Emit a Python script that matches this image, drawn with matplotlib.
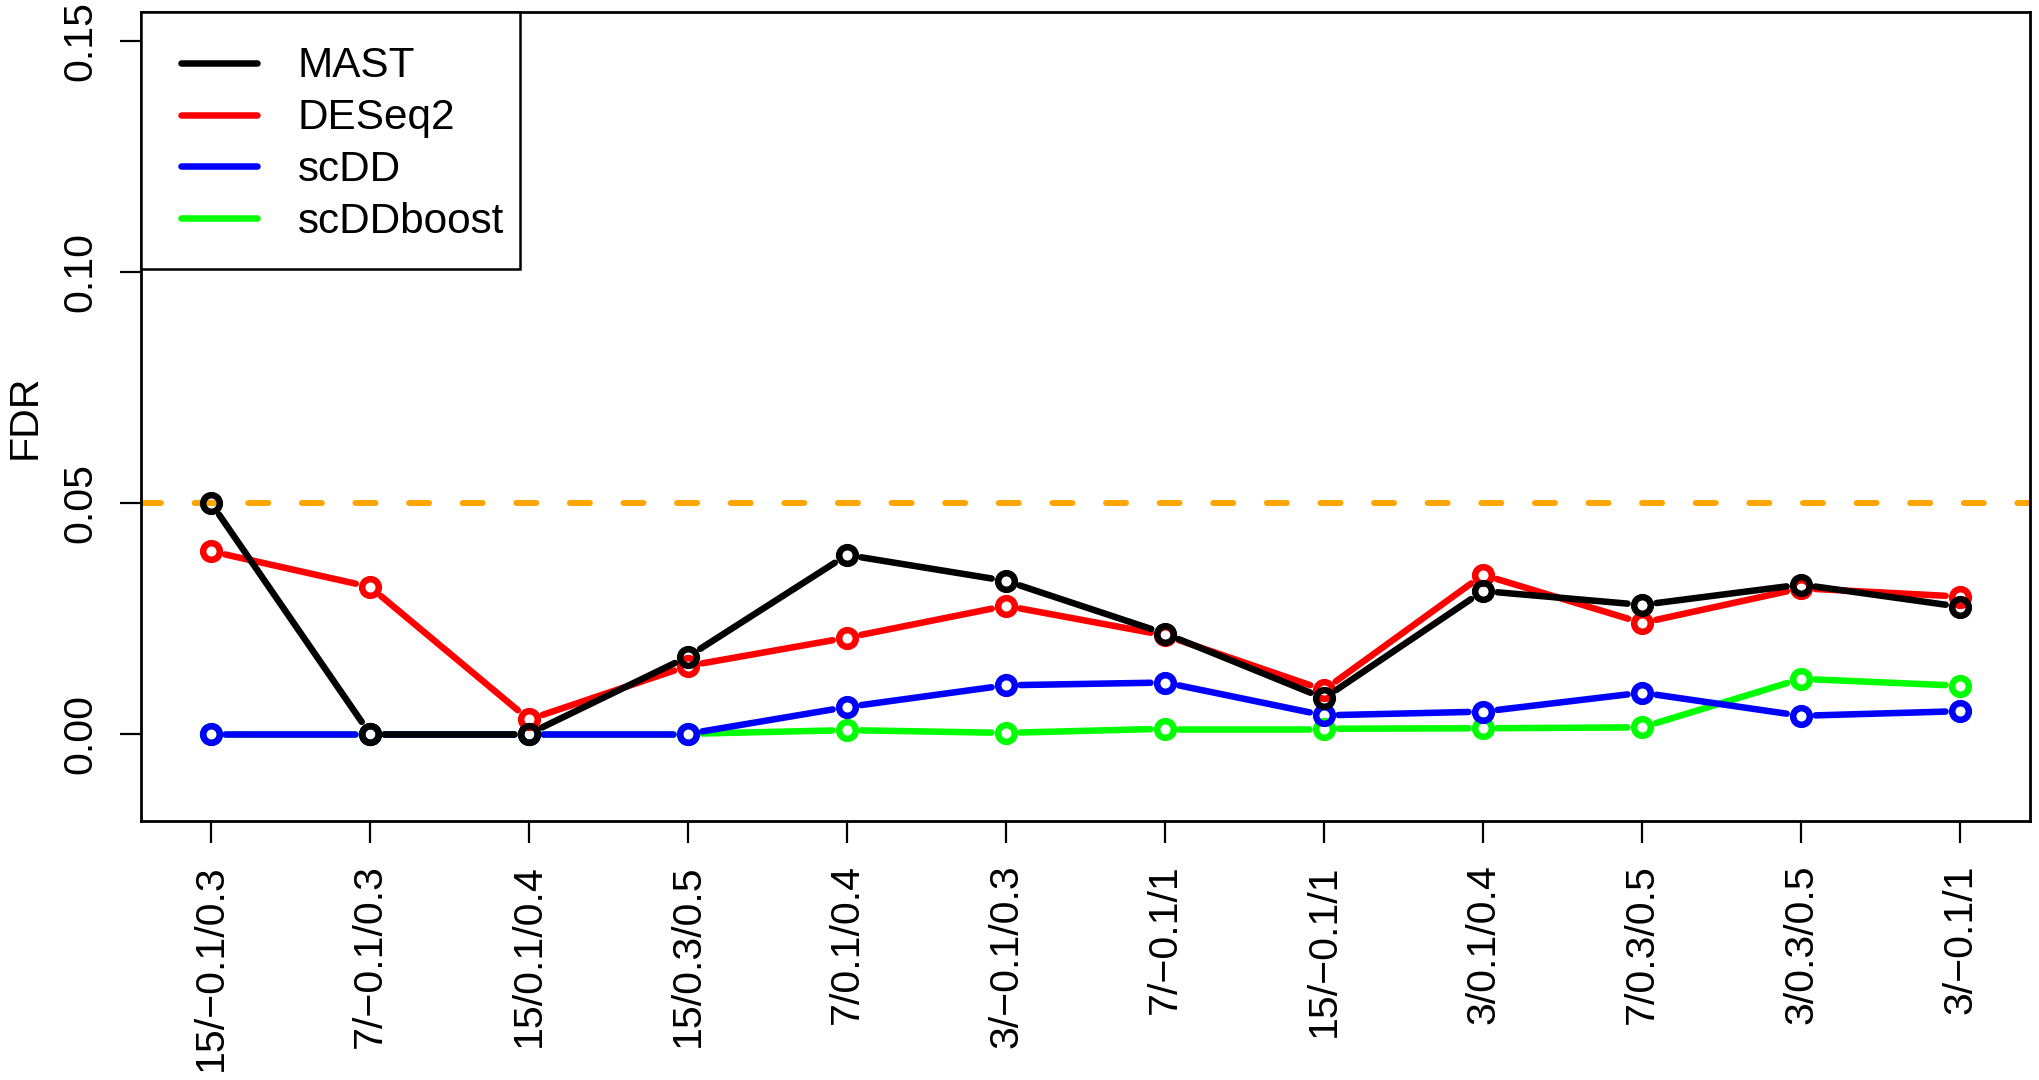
import numpy as np
import matplotlib
matplotlib.use("Agg")
import matplotlib.pyplot as plt
from matplotlib.patches import Rectangle

# ---------------- data ----------------
conditions = ["15/\u22120.1/0.3", "7/\u22120.1/0.3", "15/0.1/0.4", "15/0.3/0.5",
              "7/0.1/0.4", "3/\u22120.1/0.3", "7/\u22120.1/1", "15/\u22120.1/1",
              "3/0.1/0.4", "7/0.3/0.5", "3/0.3/0.5", "3/\u22120.1/1"]
x_index = list(range(1, len(conditions) + 1))

mast = [0.0500, 0.0000, 0.0000, 0.0167, 0.0387, 0.0331, 0.0217, 0.0077,
        0.0309, 0.0279, 0.0323, 0.0275]
deseq2 = [0.0395, 0.0318, 0.0031, 0.0147, 0.0208, 0.0277, 0.0213, 0.0095,
          0.0344, 0.0240, 0.0315, 0.0297]
scdd = [0.0000, 0.0000, 0.0000, 0.0000, 0.0058, 0.0105, 0.0111, 0.0040,
        0.0048, 0.0089, 0.0039, 0.0049]
scddboost = [0.0000, 0.0000, 0.0000, 0.0000, 0.0008, 0.0002, 0.0011, 0.0011,
             0.0012, 0.0014, 0.0119, 0.0104]

method_names = ["MAST", "DESeq2", "scDD", "scDDboost"]
method_colors = ["#000000", "#FF0000", "#0000FF", "#00FF00"]
fdr_threshold = 0.05
y_ticks = [0.00, 0.05, 0.10, 0.15]
y_tick_labels = ["0.00", "0.05", "0.10", "0.15"]

# ---------------- style ----------------
plt.rcParams["font.family"] = ["Liberation Sans", "DejaVu Sans"]
plt.rcParams["lines.scale_dashes"] = False
DPI = 200
LW = 2.35
FS = 14.8
LEG_FS = 15.2

fig = plt.figure(figsize=(10.2, 5.4), dpi=DPI)
ax = fig.add_axes([0.0691, 0.2401, 0.9260, 0.7488])
ax.set_xlim(0.56, 12.44)
ax.set_ylim(-0.0188, 0.1562)

# threshold line
ax.axhline(fdr_threshold, color="#FFA500", lw=2.15, linestyle=(0, (7.2, 12.1)),
           dash_capstyle="round", zorder=1)


def draw_type_b(ax, xs, ys, color, z, gap_px=14.5):
    """R-style type='b': points joined by lines with gaps around the points."""
    pts = ax.transData.transform(np.column_stack([xs, ys]))
    inv = ax.transData.inverted()
    for i in range(len(xs) - 1):
        p0, p1 = pts[i], pts[i + 1]
        d = p1 - p0
        L = np.hypot(d[0], d[1])
        if L <= 2 * gap_px:
            continue
        u = d / L
        seg = inv.transform(np.vstack([p0 + u * gap_px, p1 - u * gap_px]))
        ax.plot(seg[:, 0], seg[:, 1], color=color, lw=LW,
                solid_capstyle="round", zorder=z)
    ax.plot(xs, ys, linestyle="none", marker="o", ms=6.0, mew=LW,
            mfc="none", mec=color, zorder=z)


series = [mast, deseq2, scdd, scddboost]
# draw in reverse so MAST ends on top
for k in range(len(series) - 1, -1, -1):
    draw_type_b(ax, x_index, series[k], method_colors[k], z=2 + (len(series) - k))

# axes / ticks
ax.set_xticks(x_index)
ax.set_xticklabels(conditions, rotation=90, ha="center", va="top")
ax.tick_params(axis="x", length=7.9, width=0.8, pad=7.8, labelsize=FS, direction="out")
ax.set_yticks(y_ticks)
ax.set_yticklabels(y_tick_labels, rotation=90, va="center")
ax.tick_params(axis="y", length=7.6, width=0.8, pad=7.2, labelsize=FS, direction="out")
for s in ax.spines.values():
    s.set_linewidth(1.0)
ax.set_ylabel("FDR", fontsize=FS, labelpad=6.5)

# legend (R-style box in the top-left corner, axes-fraction layout)
leg_box = dict(x0=0.0, x1=0.2006, y0=0.6822, y1=1.0)
leg_line_x = (0.0212, 0.0614)
leg_text_x = 0.0831
leg_first_line_y = 0.9373
leg_first_base_y = 0.9196
leg_row_step = 0.0641
ax.add_patch(Rectangle((leg_box["x0"], leg_box["y0"]), leg_box["x1"] - leg_box["x0"],
                       leg_box["y1"] - leg_box["y0"], transform=ax.transAxes,
                       facecolor="white", edgecolor="black", lw=0.9, zorder=20,
                       clip_on=False))
for i, (name, col) in enumerate(zip(method_names, method_colors)):
    yl = leg_first_line_y - i * leg_row_step
    yt = leg_first_base_y - i * leg_row_step
    ax.plot(leg_line_x, [yl, yl], transform=ax.transAxes, color=col, lw=LW,
            solid_capstyle="round", zorder=21, clip_on=False)
    ax.text(leg_text_x, yt, name, transform=ax.transAxes, fontsize=LEG_FS,
            ha="left", va="baseline", zorder=22)

fig.savefig("out.png", dpi=DPI)
